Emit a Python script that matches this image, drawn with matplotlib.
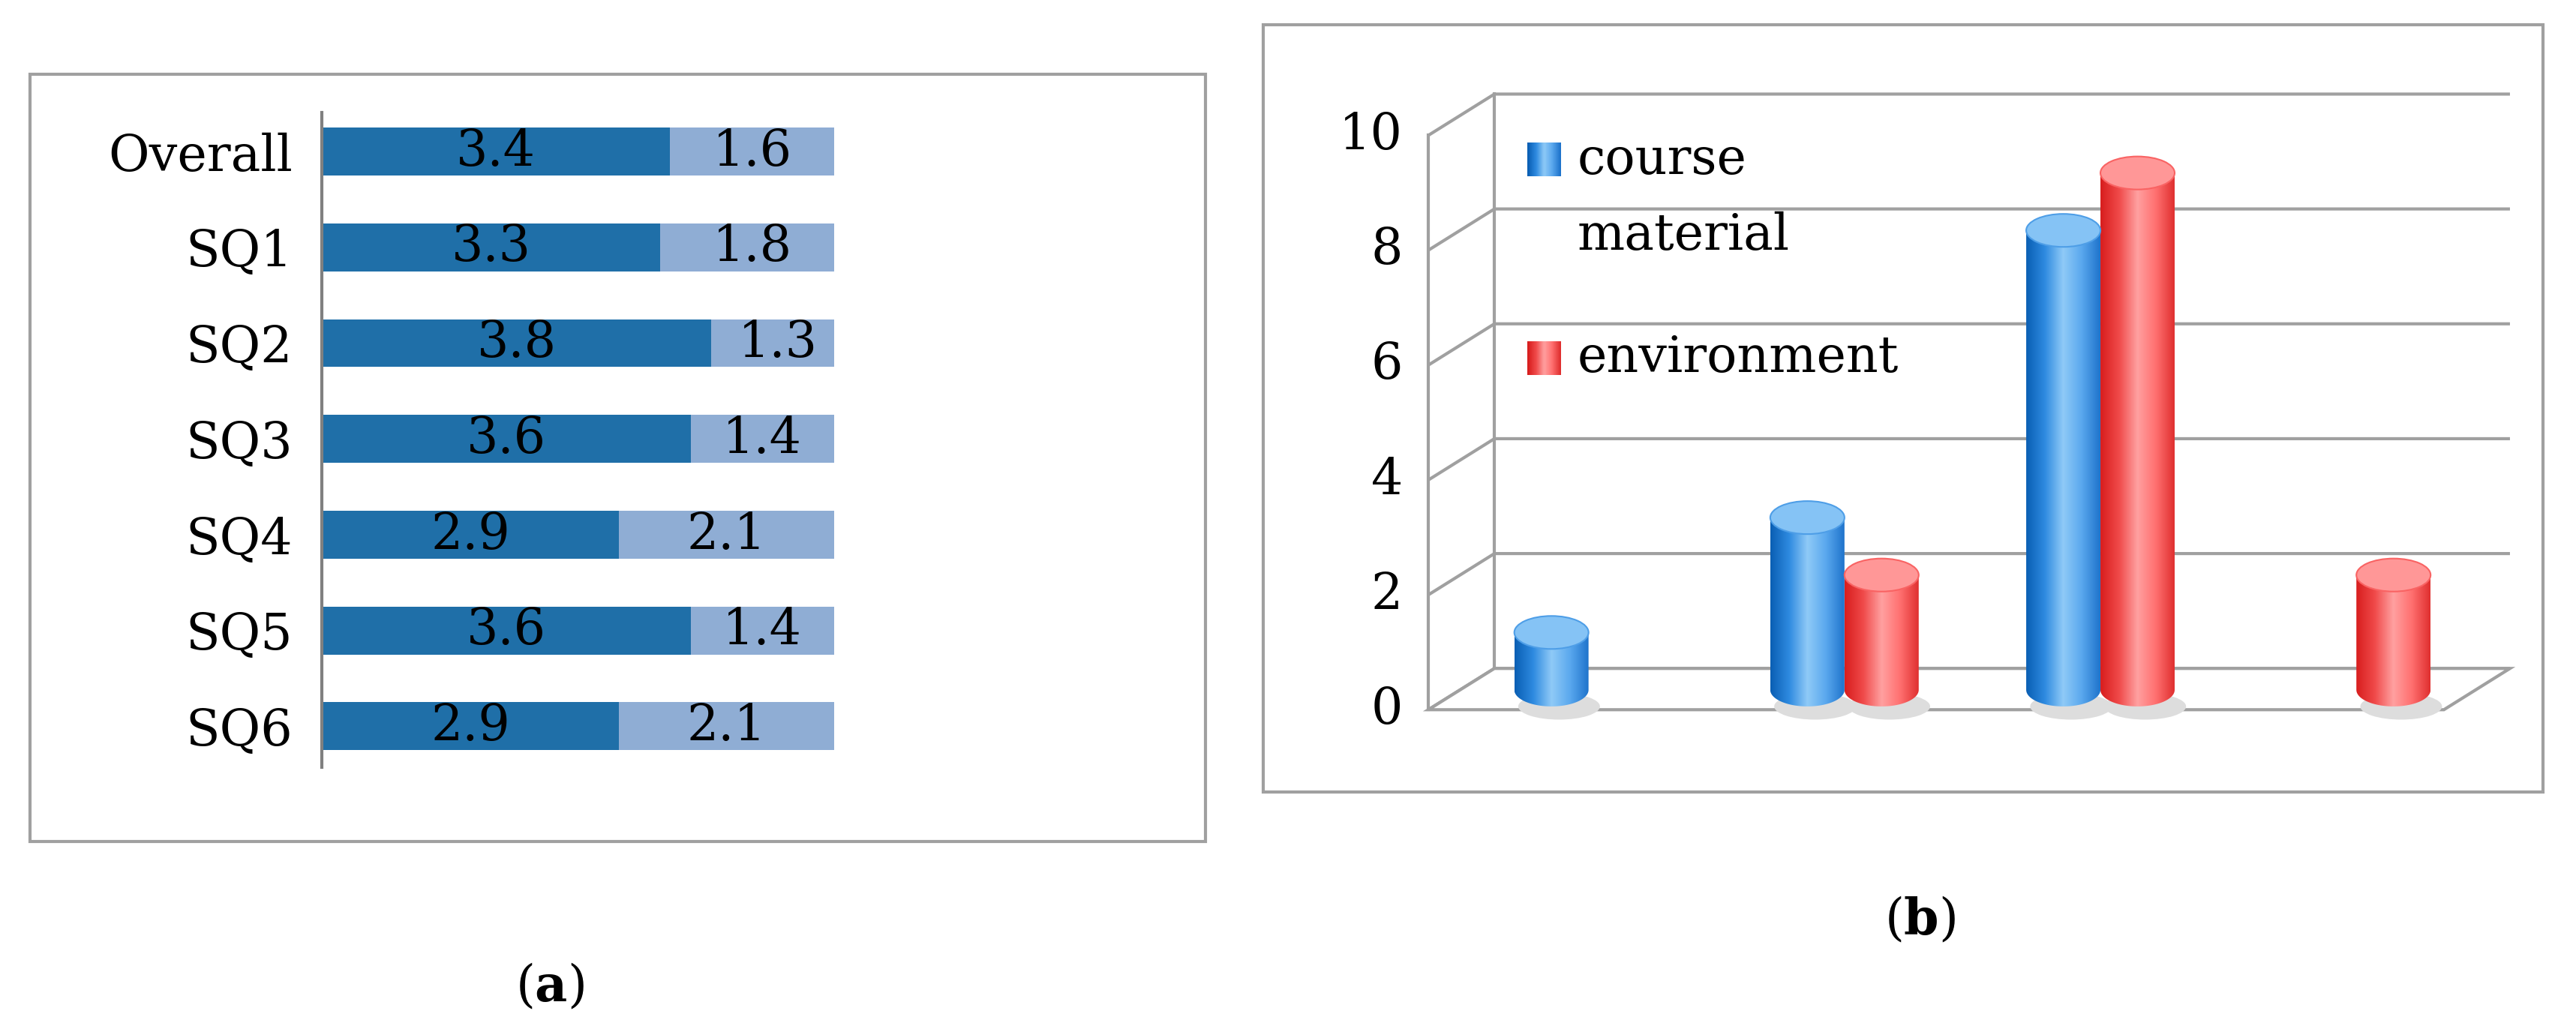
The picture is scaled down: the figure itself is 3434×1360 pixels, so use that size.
import numpy as np
import matplotlib
matplotlib.use('Agg')
import matplotlib.pyplot as plt
from matplotlib.patches import Rectangle, Ellipse, Polygon
from matplotlib.path import Path
from matplotlib.colors import LinearSegmentedColormap

plt.rcParams['font.family'] = ['DejaVu Serif']
plt.rcParams['mathtext.fontset'] = 'dejavuserif'

# (a) data
rows = ['Overall', 'SQ1', 'SQ2', 'SQ3', 'SQ4', 'SQ5', 'SQ6']
part1 = [3.4, 3.3, 3.8, 3.6, 2.9, 3.6, 2.9]
part2 = [1.6, 1.8, 1.3, 1.4, 2.1, 1.4, 2.1]

# (b) data
groups = [0, 1, 2, 3]
course = [1, 3, 8, 0]
environ = [0, 2, 9, 2]
yticks = [0, 2, 4, 6, 8, 10]

FS = 48
W, H = 1560.0, 618.0
fig = plt.figure(figsize=(34.34, 13.6), dpi=100)

def frac(x0, y0, x1, y1):
    return [x0 / W, 1 - y1 / H, (x1 - x0) / W, (y1 - y0) / H]

# background canvas for frames and captions
bg = fig.add_axes([0, 0, 1, 1])
bg.set_xlim(0, W); bg.set_ylim(H, 0); bg.axis('off')
bg.add_patch(Rectangle((18, 45), 712, 465, fill=False, ec='#a0a0a0', lw=3))
bg.add_patch(Rectangle((765, 15), 775, 465, fill=False, ec='#a0a0a0', lw=3))
bg.text(333, 598, r'($\mathbf{a}$)', fontsize=FS, ha='center', va='center')
bg.text(1163, 558, r'($\mathbf{b}$)', fontsize=FS, ha='center', va='center')

# ---- (a) stacked bars
ax = fig.add_axes(frac(195, 68, 505, 465))
ax.set_xlim(0, 5); ax.set_ylim(6.43, -0.41)
y = np.arange(len(rows))
ax.barh(y, part1, height=0.5, color='#1f6fa8')
ax.barh(y, part2, left=part1, height=0.5, color='#8fadd4')
for i in range(len(rows)):
    ax.text(part1[i] / 2, y[i], f'{part1[i]}', ha='center', va='center', fontsize=FS)
    ax.text(part1[i] + part2[i] / 2, y[i], f'{part2[i]}', ha='center', va='center', fontsize=FS)
ax.set_yticks(y)
ax.set_yticklabels(rows, fontsize=FS)
ax.tick_params(axis='y', length=0, pad=28)
ax.set_xticks([])
for s in ['top', 'right', 'bottom']:
    ax.spines[s].set_visible(False)
ax.spines['left'].set_color('#808080')
ax.spines['left'].set_linewidth(3)
ax.patch.set_alpha(0)

# ---- (b) pseudo-3D cylinders
bx = fig.add_axes(frac(765, 15, 1540, 480))
px = 155.0
ppu = 34.8
dx, dy = 40 / px, 25 / ppu
xl, xr = (865 - 962) / px, (1480 - 962) / px
gc = '#a0a0a0'
for t in yticks:
    bx.plot([xl, xl + dx, xr + dx], [t, t + dy, t + dy], color=gc, lw=3, solid_capstyle='butt')
    bx.text(xl - 0.1, t, str(t), ha='right', va='center', fontsize=FS)
bx.plot([xl + dx, xl + dx], [0 + dy, 10 + dy], color=gc, lw=3)
bx.plot([xl, xl], [0, 10], color=gc, lw=3)
bx.add_patch(Polygon([(xl, 0), (xr, 0), (xr + dx, dy), (xl + dx, dy)],
                     closed=True, fc='white', ec=gc, lw=3, zorder=2))

blue = LinearSegmentedColormap.from_list('b', ['#0a5fb4', '#2e8ae0', '#8fcaf7', '#5aa8ee', '#1f74cc'])
red = LinearSegmentedColormap.from_list('r', ['#d81e1e', '#f04a4a', '#ffa0a0', '#ff7070', '#e03030'])
bw = 0.29
base = 12 / ppu
eh = 20 / ppu

def cyl(xc, v, cmap):
    x0, x1 = xc - bw / 2, xc + bw / 2
    top = base + v
    grad = np.tile(np.linspace(0, 1, 200), (50, 1))
    im = bx.imshow(grad, cmap=cmap, extent=(x0, x1, base - eh / 2, top), aspect='auto', zorder=3)
    th = np.linspace(np.pi, 2 * np.pi, 60)
    bottom = np.column_stack([xc + bw / 2 * np.cos(th), base + eh / 2 * np.sin(th)])
    verts = np.vstack([bottom, [[x1, top], [x0, top]], bottom[:1]])
    im.set_clip_path(Path(verts), bx.transData)
    bx.add_patch(Ellipse((xc, top), bw, eh, fc=cmap(0.55), ec=cmap(0.8), lw=1.5, zorder=4))
    bx.add_patch(Ellipse((xc + 0.03, base - eh / 2), bw * 1.1, eh * 0.8, fc='#dddddd', ec='none', zorder=2.5))

for i, g in enumerate(groups):
    if course[i] > 0:
        cyl(g - 0.145, course[i], blue)
    if environ[i] > 0:
        cyl(g + 0.145, environ[i], red)

# legend
def lx(p): return (p - 962) / px
def ly(p): return (430 - p) / ppu
bx.imshow(np.tile(np.linspace(0, 1, 20), (5, 1)), cmap=blue, extent=(lx(925), lx(945), ly(107), ly(87)), aspect='auto', zorder=5)
bx.imshow(np.tile(np.linspace(0, 1, 20), (5, 1)), cmap=red, extent=(lx(925), lx(945), ly(227), ly(207)), aspect='auto', zorder=5)
bx.text(lx(955), ly(97), 'course', fontsize=FS, va='center')
bx.text(lx(955), ly(143), 'material', fontsize=FS, va='center')
bx.text(lx(955), ly(217), 'environment', fontsize=FS, va='center')
bx.set_xlim((765 - 962) / px, (1540 - 962) / px)
bx.set_ylim((430 - 480) / ppu, (430 - 15) / ppu)
bx.axis('off')

fig.savefig('out.png', dpi=100)
